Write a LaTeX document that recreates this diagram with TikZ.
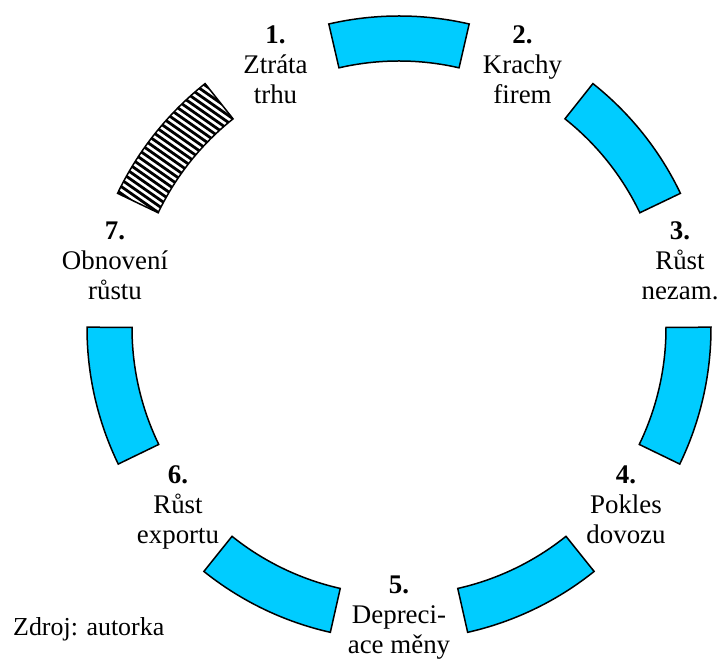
\documentclass[tikz,border=0pt]{standalone}
\usepackage{fontspec}
\setmainfont{Liberation Serif}
\definecolor{segcyan}{HTML}{00CCFF}
\newcommand{\lbl}[2]{\begin{tabular}[t]{@{}c@{}}\textbf{#1}\\#2\end{tabular}}
\begin{document}
\begin{tikzpicture}[x=1bp,y=1bp,
  seg/.style={draw=black,line width=1.5bp,line join=miter,fill=segcyan},
  hatchseg/.style={draw=black,line width=1.5bp,line join=miter},
  stripe/.style={draw=black,line width=2.8bp},
  lab/.style={inner sep=0pt,anchor=base,font=\fontsize{27}{30}\selectfont}]
\useasboundingbox (0,0) rectangle (720,659);
\coordinate (C) at (399,331);
% cyan ring segments
\foreach \k in {0,2,3,4,5,6} {
  \pgfmathsetmacro\segA{90+\k*360/7-13}
  \pgfmathsetmacro\segB{90+\k*360/7+13}
  \draw[seg] ([shift={(C)}]\segA:312) arc[start angle=\segA,end angle=\segB,radius=312]
    -- ([shift={(C)}]\segB:267) arc[start angle=\segB,end angle=\segA,radius=267] -- cycle;
}
% hatched segment
\pgfmathsetmacro\hatchC{90+360/7}
\pgfmathsetmacro\hatchS{\hatchC-13}
\pgfmathsetmacro\hatchE{\hatchC+13}
\def\stripeDir{145}
\def\stripeOff{55}
\coordinate (M) at ([shift={(C)}]\hatchC:289.5);
\begin{scope}
  \clip ([shift={(C)}]\hatchS:312) arc[start angle=\hatchS,end angle=\hatchE,radius=312]
    -- ([shift={(C)}]\hatchE:267) arc[start angle=\hatchE,end angle=\hatchS,radius=267] -- cycle;
  \fill[white] (M) circle[radius=100];
  \foreach \t in {-90,-84.3,...,92} {
    \draw[stripe] ([shift={(M)}]\stripeOff:\t) ++(\stripeDir:-60) -- ++(\stripeDir:120);
  }
\end{scope}
\draw[hatchseg] ([shift={(C)}]\hatchS:312) arc[start angle=\hatchS,end angle=\hatchE,radius=312]
    -- ([shift={(C)}]\hatchE:267) arc[start angle=\hatchE,end angle=\hatchS,radius=267] -- cycle;
% labels
\node[lab] (l1) at (275.5,615) {\lbl{1.}{Ztráta\\trhu}};
\node[lab] (l2) at (522.5,615) {\lbl{2.}{Krachy\\firem}};
\node[lab] (l3) at (680,419) {\lbl{3.}{Růst\\nezam.}};
\node[lab] (l4) at (626,175) {\lbl{4.}{Pokles\\dovozu}};
\node[lab] (l5) at (399,65) {\lbl{5.}{Depreci-\\ace měny}};
\node[lab] (l6) at (178,175) {\lbl{6.}{Růst\\exportu}};
\node[lab] (l7) at (115,419) {\lbl{7.}{Obnovení\\růstu}};
\node[lab,anchor=base west,font=\fontsize{26}{30}\selectfont] (src) at (13,23) {Zdroj: autorka};
\end{tikzpicture}
\end{document}
